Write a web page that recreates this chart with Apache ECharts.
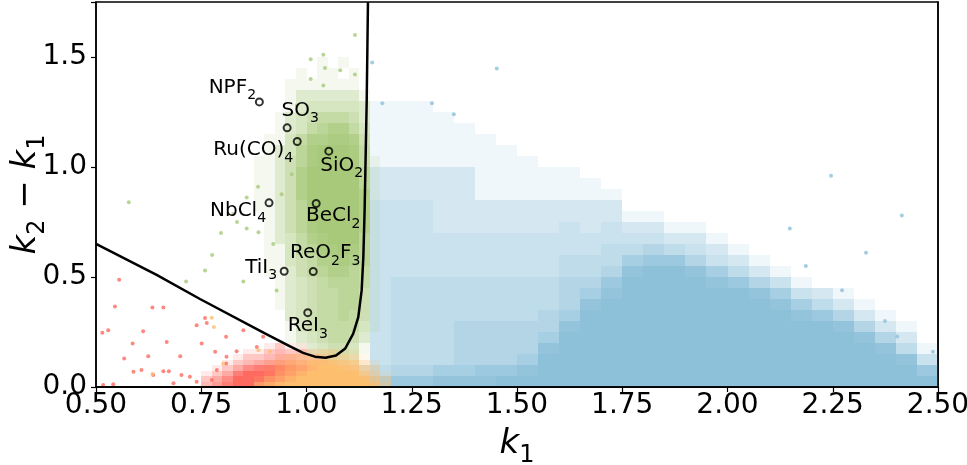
<!DOCTYPE html>
<html>
<head>
<meta charset="utf-8">
<title>k1 vs k2 - k1</title>
<script src="https://cdn.jsdelivr.net/npm/echarts@6.0.0/dist/echarts.min.js"></script>
<style>
    html, body { margin: 0; padding: 0; background: #fff; }
    #chart1 { width: 967px; height: 465px; }
</style>
</head>
<body>
<div id="chart1"></div>
<script>
// density of each point cloud.
// one string per row (top row first), one digit per cell: 0 = empty .. 9 = solid
var blueDensity = [
    "0000000000000000000000000000",
    "0000000000000000000000000000",
    "0000000000000000000000000000",
    "0000000000000000000000000000",
    "0111000000000000000000000000",
    "0111100000000000000000000000",
    "0111110000000000000000000000",
    "0111111000000000000000000000",
    "0111111100000000000000000000",
    "0111111110000000000000000000",
    "0222221111100000000000000000",
    "0222221111110000000000000000",
    "0222221111111000000000000000",
    "0333222222222000000000000000",
    "0333222222222110000000000000",
    "0333222222323221100000000000",
    "0333333333333332210000000000",
    "0333333333334454321000000000",
    "0333333333444677532100000000",
    "0333333333445899864210000000",
    "0344444444557999987531000000",
    "0344444444568999999863210000",
    "0344444444589999999986421000",
    "0344444445699999999998752100",
    "0344455555899999999999985210",
    "0344455556999999999999998520",
    "0344455558999999999999999841",
    "0344455569999999999999999983",
    "2455667789999999999999999997",
    "5677888999999999999999999999"
];
var blueCell = {x0: 1.10, y0: 0, dx: 0.05, dy: 0.05};

var greenDensity = [
    "0000000101000",
    "0000010110100",
    "0000111111100",
    "0000122222210",
    "0000123333320",
    "0001234555420",
    "0001235677530",
    "0011357788740",
    "0012368999850",
    "0112468999851",
    "0112479999961",
    "0112479999961",
    "0112479999971",
    "0112469999971",
    "0012469999971",
    "0012468999971",
    "0012357899961",
    "0011356889861",
    "0011345778761",
    "0011245677651",
    "0001234566651",
    "0001234556641",
    "0001234556641",
    "0000234556541",
    "0000134555531",
    "0000123455420",
    "0000012344310",
    "0000001233200"
];
var greenCell = {x0: 0.85, y0: 0.10, dx: 0.025, dy: 0.05};

var redDensity = [
    "00000012110000",
    "00001123221000",
    "00012234432100",
    "00123456654200",
    "01246789987410",
    "12479999999630",
    "24699999999851",
    "35799999999962"
];
var redCell = {x0: 0.75, y0: 0, dx: 0.025, dy: 0.025};

var orangeDensity = [
    "0000112211000",
    "0012344432100",
    "0124577765210",
    "0124579987420",
    "0135799999631",
    "1357999999852",
    "4689999999973"
];
var orangeCell = {x0: 0.875, y0: 0, dx: 0.025, dy: 0.025};

// single points away from the clouds
var blueStray = [[1.156,1.475],[1.452,1.448],[1.298,1.29],[1.35,1.24],[1.18,1.29],[2.414,0.78],
    [2.148,0.72],[2.329,0.61],[2.186,0.55],[2.272,0.44],[2.374,0.30],[2.403,0.23],[2.488,0.16],[2.246,0.96]];
var greenStray = [[0.578,0.84],[0.714,0.48],[0.759,0.53],[0.797,0.70],[0.835,0.75],[0.858,0.72],
    [0.776,0.60],[0.85,0.48],[0.885,0.91],[0.886,0.703],[0.921,0.65],[0.929,0.439],[0.858,0.861],
    [0.826,0.786],[0.941,0.876],[0.965,0.967],[0.977,1.28],[1.01,1.40],[1.04,1.37],[1.04,1.51],
    [1.01,1.49],[1.044,1.45],[1.08,1.44],[1.115,1.42],[1.115,1.60]];
var redStray = [[0.555,0.487],[0.545,0.366],[0.515,0.247],[0.529,0.258],[0.587,0.198],[0.612,0.253],
    [0.634,0.361],[0.660,0.361],[0.567,0.130],[0.624,0.140],[0.589,0.069],[0.608,0.077],[0.660,0.072],
    [0.673,0.072],[0.700,0.140],[0.703,0.054],[0.723,0.047],[0.759,0.314],[0.763,0.291],[0.751,0.198],
    [0.783,0.160],[0.809,0.228],[0.809,0.107],[0.834,0.163],[0.517,0.009],[0.541,0.012],[0.636,0.054],
    [0.684,0.017],[0.739,0.024],[0.787,0.077],[0.775,0.032],[0.897,0.228],[0.882,0.182],[0.850,0.258],
    [0.668,0.205],[0.739,0.281],[0.810,0.137]];
var orangeStray = [[0.775,0.315],[0.78,0.273],[0.886,0.167],[0.913,0.160],[0.802,0.107],[0.634,0.059]];

// decision boundary
var boundaryK1 = [0.50, 0.644, 0.747, 0.90, 0.961, 0.992, 1.02, 1.045, 1.07, 1.092, 1.111, 1.123, 1.131, 1.135, 1.138, 1.143, 1.146];
var boundaryDk = [0.651, 0.51, 0.40, 0.245, 0.185, 0.155, 0.138, 0.133, 0.143, 0.175, 0.243, 0.318, 0.439, 0.59, 0.80, 1.30, 1.75];

// labelled compounds
var compoundNames = ['NPF2', 'SO3', 'Ru(CO)4', 'SiO2', 'NbCl4', 'BeCl2', 'TiI3', 'ReO2F3', 'ReI3'];
var compoundK1 = [0.888, 0.954, 0.978, 1.053, 0.911, 1.023, 0.947, 1.016, 1.003];
var compoundDk = [1.296, 1.178, 1.116, 1.072, 0.837, 0.834, 0.526, 0.525, 0.338];
// where each name sits relative to its marker (px)
var labelOffsets = [[-27,-12], [13,-15], [-44,11], [13,17], [-31,10], [17,15], [-23,-1], [12,-16], [0,16]];

var xTicks = {min: 0.5, max: 2.5, interval: 0.25};
var yTicks = {min: 0, max: 1.75, interval: 0.5};

var FONT = 'DejaVu Sans';

function cellData(rows, cell) {
    var data = [];
    var n = rows.length;
    for (var r = 0; r < n; r++) {
        for (var c = 0; c < rows[r].length; c++) {
            var lv = +rows[r].charAt(c);
            if (lv > 0) {
                data.push([cell.x0 + c * cell.dx, cell.y0 + (n - 1 - r) * cell.dy, lv]);
            }
        }
    }
    return data;
}

// sparse cells are speckled dots in the original, so they read darker than lv/9
function cellOpacity(lv) {
    if (lv >= 9) return 1;
    if (lv === 1) return 0.13;
    return Math.min(0.95, 0.17 + lv * 0.1);
}

function cellSeries(name, color, rows, cell) {
    return {
        type: 'custom',
        name: name,
        clip: true,
        silent: true,
        data: cellData(rows, cell),
        renderItem: function (params, api) {
            var p0 = api.coord([api.value(0), api.value(1) + cell.dy]);
            var p1 = api.coord([api.value(0) + cell.dx, api.value(1)]);
            var x = Math.round(p0[0]), y = Math.round(p0[1]);
            return {
                type: 'rect',
                shape: {x: x, y: y, width: Math.round(p1[0]) - x, height: Math.round(p1[1]) - y},
                style: {fill: color, opacity: cellOpacity(api.value(2))}
            };
        }
    };
}

function strays(name, color, pts) {
    return {
        type: 'scatter',
        name: name,
        symbolSize: 4,
        silent: true,
        itemStyle: {color: color},
        data: pts
    };
}

// chemical formula -> rich text with subscripted digits
function formula(s) {
    return s.replace(/([^0-9]+)|([0-9]+)/g, function (m, a, b) {
        return a ? '{n|' + a + '}' : '{s|' + b + '}';
    });
}

var compoundData = compoundNames.map(function (n, i) {
    return {name: n, value: [compoundK1[i], compoundDk[i]], label: {offset: labelOffsets[i]}};
});

var boundary = boundaryK1.map(function (x, i) { return [x, boundaryDk[i]]; });

var BLUE = '#8dc1da', GREEN = '#a8c97a', RED = '#fe6a5f', ORANGE = '#fdbe6e';

var frameLine = {show: true, lineStyle: {color: '#000', width: 1.5}};

var _chart1 = echarts.init(document.getElementById('chart1'));
var option1 = {
    animation: false,
    backgroundColor: '#fff',
    grid: {
        left: 96, right: 29, top: 2, bottom: 78,
        containLabel: false, outerBoundsMode: 'none',
        show: true, borderColor: '#000', borderWidth: 1.5, backgroundColor: 'transparent'
    },
    xAxis: [{
        type: 'value',
        min: xTicks.min, max: xTicks.max, interval: xTicks.interval,
        z: 10,
        name: '{i|k}{s|1}',
        nameLocation: 'middle',
        nameGap: 40,
        nameMoveOverlap: false,
        nameTextStyle: {
            rich: {
                i: {fontFamily: FONT, fontStyle: 'italic', fontSize: 34, color: '#000', verticalAlign: 'bottom', padding: [0, 0, 7, 0]},
                s: {fontFamily: FONT, fontSize: 24, color: '#000', verticalAlign: 'bottom'}
            }
        },
        axisLine: frameLine,
        axisTick: {length: 5, lineStyle: {color: '#000', width: 1.2}},
        axisLabel: {
            fontFamily: FONT, fontSize: 28, color: '#000', margin: 5,
            formatter: function (v) { return v.toFixed(2); }
        },
        splitLine: {show: false}
    }, {
        type: 'value', position: 'top',
        min: xTicks.min, max: xTicks.max,
        z: 10,
        axisLine: frameLine,
        axisTick: {show: false}, axisLabel: {show: false}, splitLine: {show: false}
    }],
    yAxis: [{
        type: 'value',
        min: yTicks.min, max: yTicks.max, interval: yTicks.interval,
        z: 10,
        name: '{i|k}{s|2}{n| − }{i|k}{s|1}',
        nameLocation: 'middle',
        nameGap: 46,
        nameMoveOverlap: false,
        nameTextStyle: {
            rich: {
                i: {fontFamily: FONT, fontStyle: 'italic', fontSize: 34, color: '#000', verticalAlign: 'bottom', padding: [0, 0, 7, 0]},
                n: {fontFamily: FONT, fontSize: 34, color: '#000', verticalAlign: 'bottom', padding: [0, 0, 7, 0]},
                s: {fontFamily: FONT, fontSize: 24, color: '#000', verticalAlign: 'bottom'}
            }
        },
        axisLine: frameLine,
        axisTick: {length: 5, lineStyle: {color: '#000', width: 1.2}},
        axisLabel: {
            fontFamily: FONT, fontSize: 28, color: '#000', margin: 9,
            formatter: function (v) {
                return Math.abs(v / yTicks.interval - Math.round(v / yTicks.interval)) < 1e-6 ? v.toFixed(1) : '';
            }
        },
        splitLine: {show: false}
    }, {
        type: 'value', position: 'right',
        min: yTicks.min, max: yTicks.max,
        z: 10,
        axisLine: frameLine,
        axisTick: {show: false}, axisLabel: {show: false}, splitLine: {show: false}
    }],
    series: [
        cellSeries('blue', BLUE, blueDensity, blueCell),
        strays('blue', BLUE, blueStray),
        cellSeries('green', GREEN, greenDensity, greenCell),
        strays('green', GREEN, greenStray),
        cellSeries('red', RED, redDensity, redCell),
        strays('red', RED, redStray),
        cellSeries('orange', ORANGE, orangeDensity, orangeCell),
        strays('orange', ORANGE, orangeStray),
        {
            type: 'line',
            data: boundary,
            showSymbol: false,
            silent: true,
            z: 5,
            lineStyle: {color: '#000', width: 2.5}
        },
        {
            type: 'scatter',
            z: 6,
            symbol: 'circle',
            symbolSize: 7,
            itemStyle: {color: 'rgba(255,255,255,0)', borderColor: '#000', borderWidth: 2},
            label: {
                show: true,
                position: 'inside',
                color: '#000',
                opacity: 1,
                textBorderWidth: 0,
                formatter: function (p) { return formula(p.name); },
                rich: {
                    n: {fontFamily: FONT, fontSize: 20, color: '#000', textBorderWidth: 0, verticalAlign: 'bottom', padding: [0, 0, 5, 0]},
                    s: {fontFamily: FONT, fontSize: 14, color: '#000', textBorderWidth: 0, verticalAlign: 'bottom'}
                }
            },
            data: compoundData
        }
    ]
};
_chart1.setOption(option1);
</script>
</body>
</html>
